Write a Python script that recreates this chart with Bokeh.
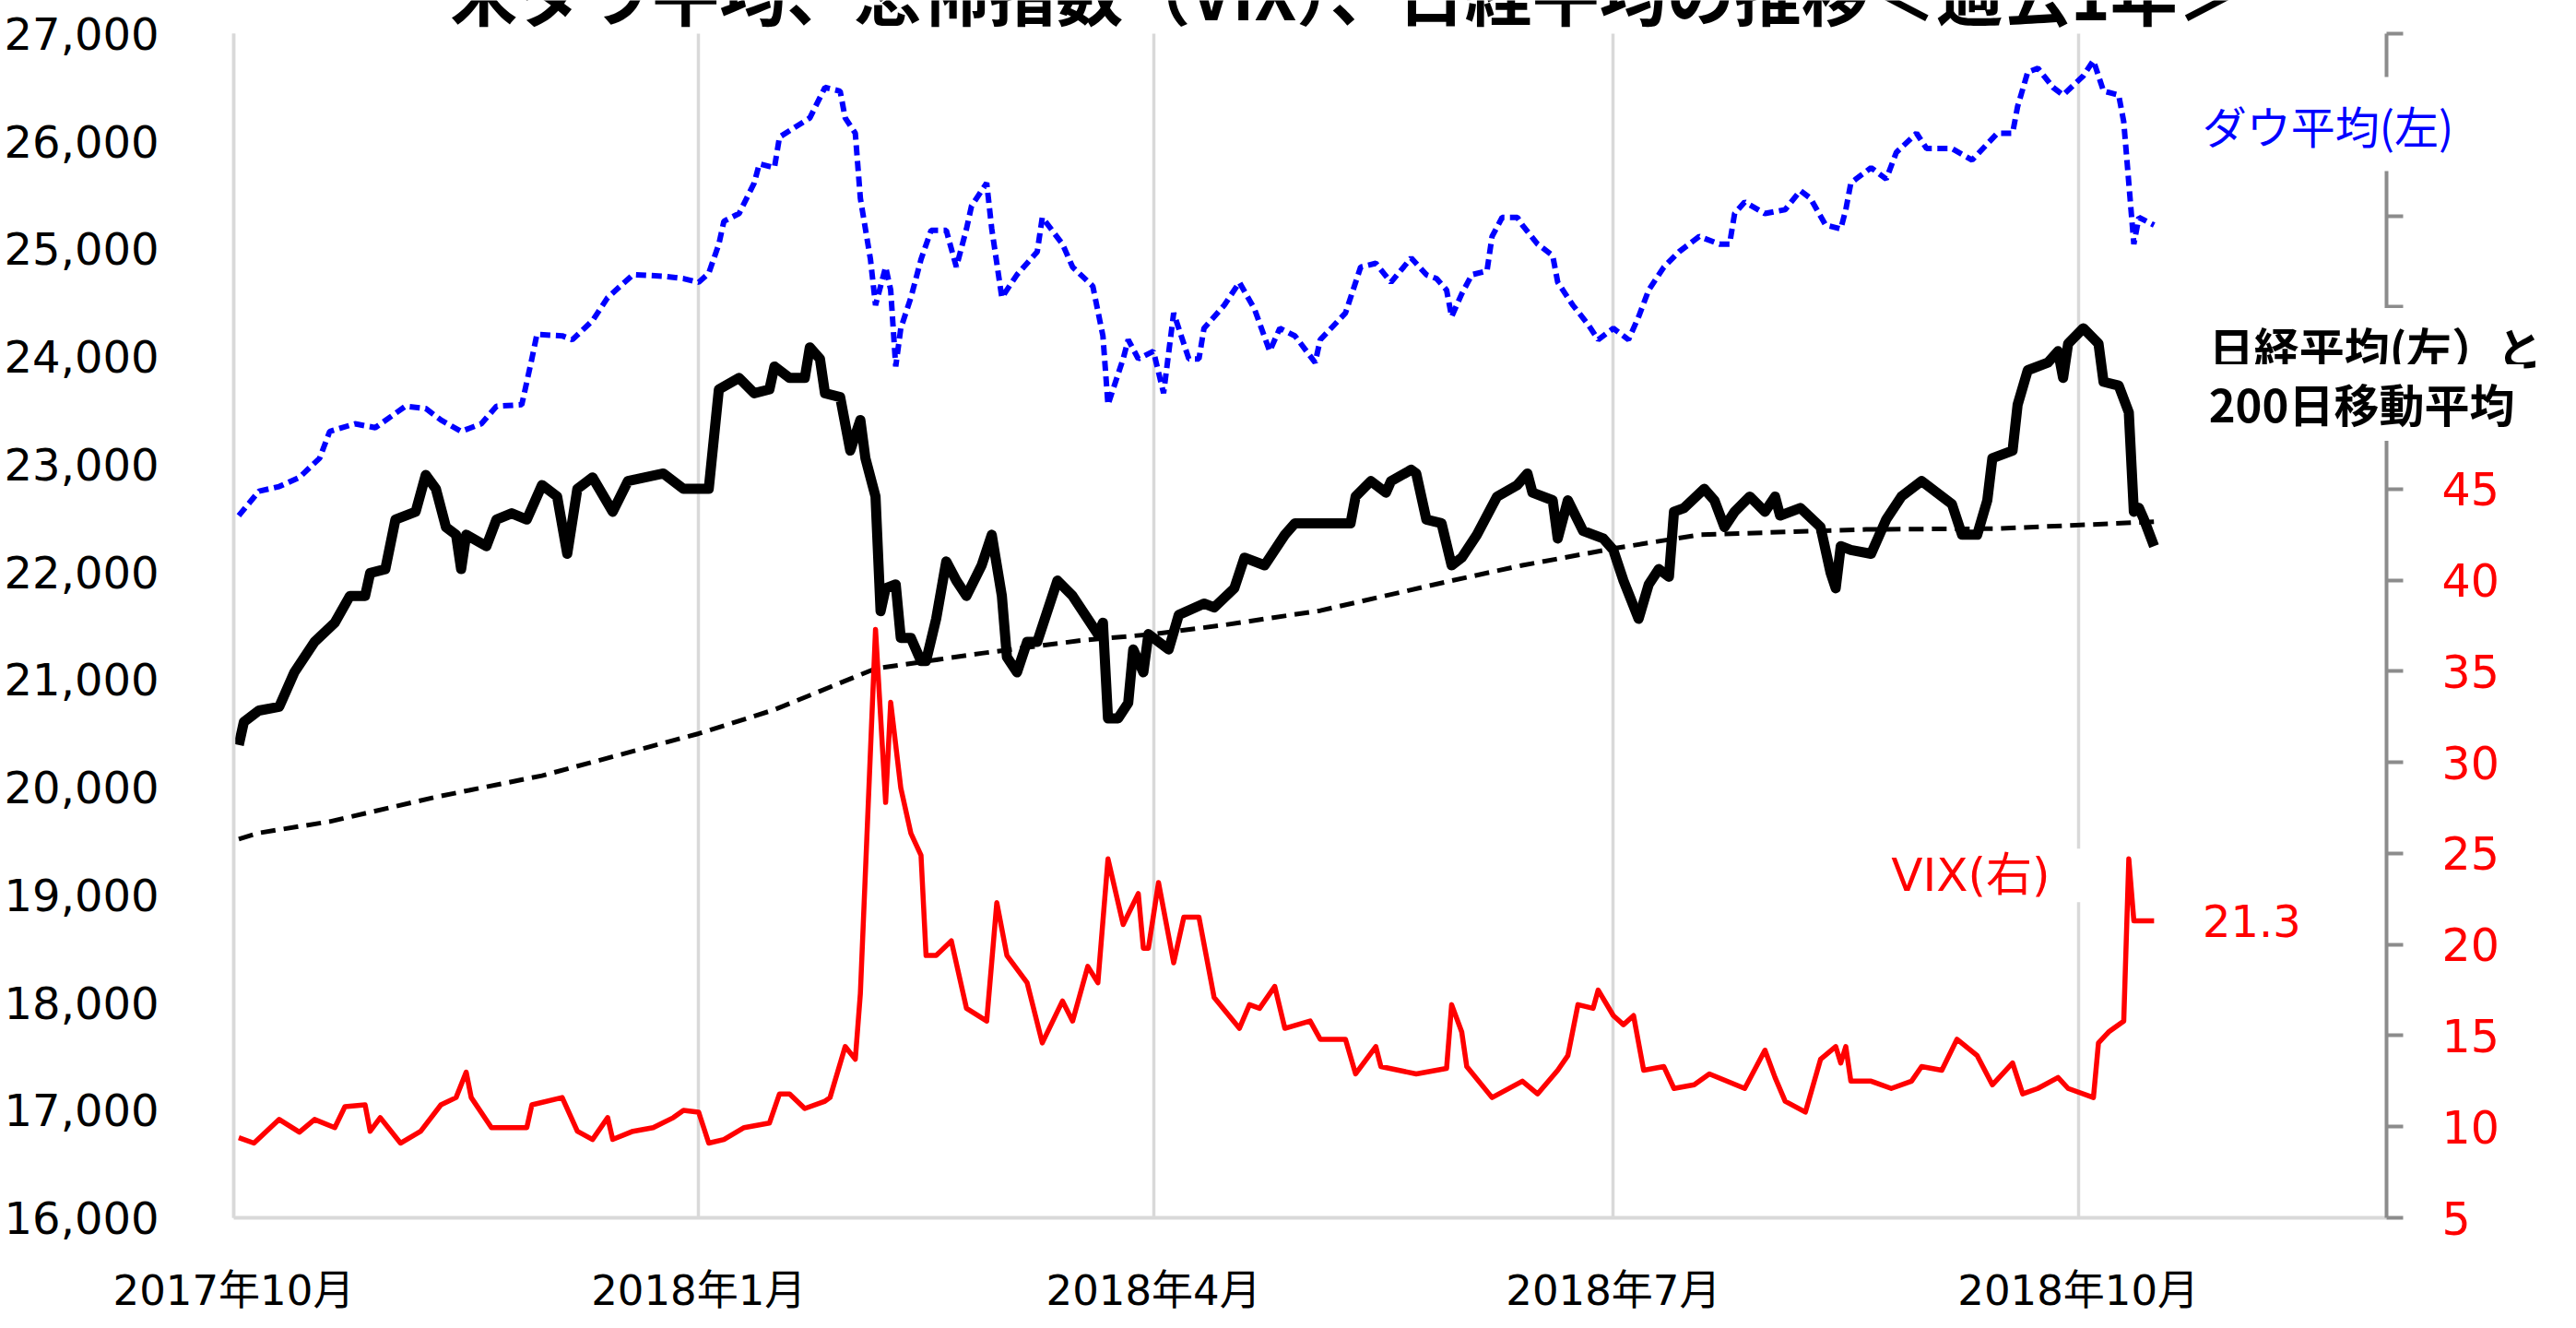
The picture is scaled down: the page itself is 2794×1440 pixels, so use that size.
import pandas as pd
from bokeh.plotting import figure
from bokeh.models import Range1d, LinearAxis, FixedTicker, NumeralTickFormatter, Label
from bokeh.embed import file_html
from bokeh.resources import INLINE

# ---------------- data ----------------
ORIGIN = "2017-10-01"
AXIS_END = "2018-12-01"

title_text = "米ダウ平均、恐怖指数（VIX）、日経平均の推移＜過去1年＞"

month_tick_dates = ["2017-10-01", "2018-01-01", "2018-04-01", "2018-07-01", "2018-10-01"]
month_tick_labels = ["2017年10月", "2018年1月", "2018年4月", "2018年7月", "2018年10月"]

left_ticks = list(range(16000, 27001, 1000))
right_ticks = list(range(5, 71, 5))
right_label_max = 45

dow_label = "ダウ平均(左)"
nikkei_label_1 = "日経平均(左）と"
nikkei_label_2 = "200日移動平均"
vix_label = "VIX(右)"

dow_dates = [
    "2017-10-02", "2017-10-06", "2017-10-10", "2017-10-14", "2017-10-18", "2017-10-20", "2017-10-25",
    "2017-10-29", "2017-11-04", "2017-11-08", "2017-11-11", "2017-11-15", "2017-11-19", "2017-11-22",
    "2017-11-27", "2017-11-29", "2017-11-30", "2017-12-05", "2017-12-07", "2017-12-11", "2017-12-14",
    "2017-12-19", "2017-12-25", "2017-12-29", "2018-01-01", "2018-01-03", "2018-01-05", "2018-01-06",
    "2018-01-09", "2018-01-12", "2018-01-13", "2018-01-16", "2018-01-17", "2018-01-23", "2018-01-26",
    "2018-01-29", "2018-01-30", "2018-02-01", "2018-02-02", "2018-02-04", "2018-02-05", "2018-02-07",
    "2018-02-08", "2018-02-09", "2018-02-10", "2018-02-12", "2018-02-14", "2018-02-16", "2018-02-19",
    "2018-02-21", "2018-02-23", "2018-02-24", "2018-02-27", "2018-02-28", "2018-03-02", "2018-03-05",
    "2018-03-09", "2018-03-10", "2018-03-14", "2018-03-16", "2018-03-20", "2018-03-22", "2018-03-23",
    "2018-03-26", "2018-03-27", "2018-03-29", "2018-04-01", "2018-04-03", "2018-04-05", "2018-04-08",
    "2018-04-10", "2018-04-11", "2018-04-15", "2018-04-18", "2018-04-21", "2018-04-24", "2018-04-26",
    "2018-04-29", "2018-05-03", "2018-05-04", "2018-05-09", "2018-05-12", "2018-05-15", "2018-05-18",
    "2018-05-22", "2018-05-25", "2018-05-27", "2018-05-29", "2018-05-30", "2018-06-01", "2018-06-03",
    "2018-06-06", "2018-06-07", "2018-06-09", "2018-06-12", "2018-06-13", "2018-06-16", "2018-06-19",
    "2018-06-20", "2018-06-23", "2018-06-26", "2018-06-28", "2018-07-01", "2018-07-04", "2018-07-06",
    "2018-07-08", "2018-07-11", "2018-07-14", "2018-07-18", "2018-07-22", "2018-07-24", "2018-07-25",
    "2018-07-27", "2018-07-31", "2018-08-04", "2018-08-07", "2018-08-09", "2018-08-12", "2018-08-15",
    "2018-08-16", "2018-08-17", "2018-08-18", "2018-08-21", "2018-08-24", "2018-08-26", "2018-08-30",
    "2018-09-01", "2018-09-06", "2018-09-10", "2018-09-15", "2018-09-18", "2018-09-19", "2018-09-21",
    "2018-09-23", "2018-09-26", "2018-09-28", "2018-10-02", "2018-10-04", "2018-10-06", "2018-10-09",
    "2018-10-10", "2018-10-11", "2018-10-12", "2018-10-13", "2018-10-16",
]
dow_values = [
    22523, 22750, 22793, 22878, 23056, 23305, 23376,
    23340, 23539, 23518, 23411, 23305, 23376, 23539,
    23553, 23980, 24207, 24193, 24157, 24334, 24548,
    24761, 24747, 24725, 24690, 24775, 25045, 25258,
    25329, 25613, 25790, 25755, 26040, 26217, 26501,
    26466, 26217, 26075, 25471, 24903, 24477, 24832,
    24619, 23908, 24263, 24548, 24903, 25173, 25173,
    24832, 25187, 25400, 25613, 25187, 24548, 24761,
    24974, 25293, 25045, 24832, 24654, 24192, 23553,
    23979, 24157, 23979, 24050, 23660, 24405, 23979,
    23979, 24263, 24477, 24690, 24441, 24050, 24263,
    24192, 23944, 24157, 24405, 24832, 24867, 24690,
    24917, 24761, 24725, 24619, 24370, 24583, 24761,
    24796, 25116, 25293, 25293, 25222, 25045, 24939,
    24690, 24477, 24299, 24157, 24263, 24157, 24370,
    24619, 24832, 24974, 25116, 25045, 25045, 25329,
    25436, 25329, 25365, 25542, 25471, 25222, 25187,
    25365, 25613, 25649, 25755, 25649, 25897, 26075,
    25933, 25933, 25826, 26075, 26075, 26324, 26643,
    26679, 26501, 26430, 26608, 26750, 26466, 26430,
    26181, 25613, 25045, 25293, 25222,
]

nikkei_dates = [
    "2017-10-02", "2017-10-03", "2017-10-06", "2017-10-10", "2017-10-13", "2017-10-17", "2017-10-21",
    "2017-10-24", "2017-10-27", "2017-10-28", "2017-10-31", "2017-11-02", "2017-11-06", "2017-11-08",
    "2017-11-10", "2017-11-12", "2017-11-14", "2017-11-15", "2017-11-16", "2017-11-20", "2017-11-22",
    "2017-11-25", "2017-11-28", "2017-12-01", "2017-12-04", "2017-12-06", "2017-12-08", "2017-12-11",
    "2017-12-15", "2017-12-18", "2017-12-25", "2017-12-29", "2018-01-03", "2018-01-05", "2018-01-09",
    "2018-01-12", "2018-01-15", "2018-01-16", "2018-01-19", "2018-01-22", "2018-01-23", "2018-01-25",
    "2018-01-26", "2018-01-29", "2018-01-31", "2018-02-02", "2018-02-03", "2018-02-05", "2018-02-06",
    "2018-02-07", "2018-02-09", "2018-02-10", "2018-02-12", "2018-02-14", "2018-02-15", "2018-02-17",
    "2018-02-19", "2018-02-21", "2018-02-23", "2018-02-26", "2018-02-28", "2018-03-02", "2018-03-03",
    "2018-03-05", "2018-03-07", "2018-03-09", "2018-03-13", "2018-03-16", "2018-03-21", "2018-03-22",
    "2018-03-23", "2018-03-25", "2018-03-27", "2018-03-28", "2018-03-30", "2018-03-31", "2018-04-04",
    "2018-04-06", "2018-04-11", "2018-04-13", "2018-04-17", "2018-04-19", "2018-04-23", "2018-04-27",
    "2018-04-29", "2018-05-02", "2018-05-10", "2018-05-11", "2018-05-14", "2018-05-17", "2018-05-18",
    "2018-05-22", "2018-05-23", "2018-05-25", "2018-05-28", "2018-05-30", "2018-06-01", "2018-06-04",
    "2018-06-08", "2018-06-12", "2018-06-14", "2018-06-15", "2018-06-19", "2018-06-20", "2018-06-22",
    "2018-06-25", "2018-06-29", "2018-07-01", "2018-07-03", "2018-07-06", "2018-07-08", "2018-07-10",
    "2018-07-12", "2018-07-13", "2018-07-15", "2018-07-19", "2018-07-21", "2018-07-23", "2018-07-25",
    "2018-07-28", "2018-07-31", "2018-08-02", "2018-08-03", "2018-08-07", "2018-08-11", "2018-08-13",
    "2018-08-14", "2018-08-15", "2018-08-17", "2018-08-21", "2018-08-24", "2018-08-27", "2018-08-31",
    "2018-09-03", "2018-09-06", "2018-09-08", "2018-09-11", "2018-09-13", "2018-09-14", "2018-09-18",
    "2018-09-19", "2018-09-21", "2018-09-25", "2018-09-27", "2018-09-28", "2018-09-29", "2018-10-02",
    "2018-10-05", "2018-10-06", "2018-10-09", "2018-10-11", "2018-10-12", "2018-10-13", "2018-10-14",
    "2018-10-16",
]
nikkei_values = [
    20392, 20605, 20712, 20747, 21067, 21350, 21528,
    21777, 21777, 21990, 22026, 22487, 22559, 22900,
    22772, 22416, 22345, 22026, 22345, 22239, 22487,
    22544, 22487, 22807, 22700, 22168, 22772, 22878,
    22559, 22843, 22914, 22772, 22772, 23695, 23802,
    23660, 23695, 23908, 23802, 23802, 24086, 23979,
    23660, 23624, 23127, 23411, 23056, 22700, 21635,
    21848, 21884, 21386, 21386, 21173, 21173, 21564,
    22097, 21919, 21777, 22061, 22345, 21777, 21209,
    21067, 21350, 21350, 21919, 21777, 21422, 21528,
    20640, 20640, 20782, 21280, 21067, 21422, 21280,
    21600, 21706, 21670, 21848, 22132, 22061, 22345,
    22452, 22452, 22452, 22700, 22843, 22736, 22843,
    22949, 22914, 22487, 22452, 22061, 22132, 22345,
    22700, 22807, 22914, 22736, 22665, 22310, 22665,
    22381, 22310, 22203, 21919, 21564, 21884, 22026,
    21955, 22559, 22594, 22772, 22665, 22416, 22559,
    22700, 22559, 22700, 22523, 22594, 22416, 21990,
    21848, 22239, 22203, 22168, 22487, 22700, 22843,
    22736, 22630, 22345, 22345, 22665, 23056, 23127,
    23553, 23873, 23944, 24050, 23802, 24121, 24263,
    24121, 23766, 23731, 23482, 22559, 22594, 22487,
    22239,
]

ma200_dates = [
    "2017-10-02", "2017-10-06", "2017-10-20", "2017-11-10", "2017-12-01", "2018-01-01", "2018-01-16",
    "2018-02-05", "2018-02-26", "2018-03-18", "2018-04-01", "2018-04-15", "2018-05-04", "2018-05-30",
    "2018-06-13", "2018-07-01", "2018-07-18", "2018-08-20", "2018-09-15", "2018-10-16",
]
ma200_values = [
    19518, 19575, 19681, 19909, 20107, 20498, 20720,
    21102, 21244, 21365, 21422, 21507, 21640, 21919,
    22061, 22217, 22345, 22395, 22402, 22466,
]

vix_dates = [
    "2017-10-02", "2017-10-05", "2017-10-10", "2017-10-14", "2017-10-17", "2017-10-21", "2017-10-23",
    "2017-10-27", "2017-10-28", "2017-10-30", "2017-11-03", "2017-11-07", "2017-11-11", "2017-11-14",
    "2017-11-16", "2017-11-17", "2017-11-21", "2017-11-28", "2017-11-29", "2017-12-05", "2017-12-08",
    "2017-12-11", "2017-12-14", "2017-12-15", "2017-12-19", "2017-12-23", "2017-12-27", "2017-12-29",
    "2018-01-01", "2018-01-03", "2018-01-06", "2018-01-10", "2018-01-15", "2018-01-17", "2018-01-19",
    "2018-01-22", "2018-01-26", "2018-01-27", "2018-01-30", "2018-02-01", "2018-02-02", "2018-02-05",
    "2018-02-07", "2018-02-08", "2018-02-10", "2018-02-12", "2018-02-14", "2018-02-15", "2018-02-17",
    "2018-02-20", "2018-02-23", "2018-02-27", "2018-03-01", "2018-03-03", "2018-03-07", "2018-03-10",
    "2018-03-14", "2018-03-16", "2018-03-19", "2018-03-21", "2018-03-23", "2018-03-26", "2018-03-29",
    "2018-03-30", "2018-03-31", "2018-04-02", "2018-04-05", "2018-04-07", "2018-04-10", "2018-04-13",
    "2018-04-18", "2018-04-20", "2018-04-22", "2018-04-25", "2018-04-27", "2018-05-02", "2018-05-04",
    "2018-05-09", "2018-05-11", "2018-05-15", "2018-05-16", "2018-05-23", "2018-05-29", "2018-05-30",
    "2018-06-01", "2018-06-02", "2018-06-07", "2018-06-13", "2018-06-16", "2018-06-20", "2018-06-22",
    "2018-06-24", "2018-06-27", "2018-06-28", "2018-07-01", "2018-07-03", "2018-07-05", "2018-07-07",
    "2018-07-11", "2018-07-13", "2018-07-17", "2018-07-20", "2018-07-27", "2018-07-31", "2018-08-02",
    "2018-08-04", "2018-08-08", "2018-08-11", "2018-08-14", "2018-08-15", "2018-08-16", "2018-08-17",
    "2018-08-21", "2018-08-25", "2018-08-29", "2018-08-31", "2018-09-04", "2018-09-07", "2018-09-11",
    "2018-09-14", "2018-09-18", "2018-09-20", "2018-09-23", "2018-09-27", "2018-09-29", "2018-10-04",
    "2018-10-05", "2018-10-07", "2018-10-10", "2018-10-11", "2018-10-12", "2018-10-16",
]
vix_values = [
    9.4, 9.1, 10.4, 9.7, 10.4, 9.95, 11.1,
    11.2, 9.75, 10.5, 9.1, 9.75, 11.2, 11.6,
    13.0, 11.6, 9.95, 9.95, 11.2, 11.6, 9.75,
    9.3, 10.5, 9.3, 9.75, 9.95, 10.5, 10.9,
    10.8, 9.1, 9.3, 9.95, 10.2, 11.8, 11.8,
    11.0, 11.4, 11.6, 14.4, 13.7, 17.3, 37.3,
    27.8, 33.3, 28.6, 26.1, 24.9, 19.4, 19.4,
    20.2, 16.5, 15.8, 22.3, 19.4, 17.9, 14.6,
    16.9, 15.8, 18.8, 17.9, 24.7, 21.1, 22.8,
    19.8, 19.8, 23.4, 19.0, 21.5, 21.5, 17.1,
    15.4, 16.7, 16.5, 17.7, 15.4, 15.8, 14.8,
    14.8, 12.9, 14.4, 13.3, 12.9, 13.2, 16.7,
    15.2, 13.3, 11.6, 12.5, 11.8, 13.1, 13.9,
    16.7, 16.5, 17.5, 16.1, 15.6, 16.1, 13.1,
    13.3, 12.1, 12.3, 12.9, 12.1, 14.2, 12.7,
    11.4, 10.8, 13.7, 14.4, 13.5, 14.4, 12.5,
    12.5, 12.1, 12.5, 13.3, 13.1, 14.8, 13.9,
    12.3, 13.5, 11.8, 12.1, 12.7, 12.1, 11.6,
    14.6, 15.2, 15.8, 24.7, 21.3, 21.3,
]


def to_days(dates):
    base = pd.Timestamp(ORIGIN)
    return [(pd.Timestamp(d) - base).days for d in dates]


# ---------------- layout ----------------
# The frame covers the whole canvas; the three axes are drawn at fixed
# locations inside it, so nothing (labels, boxes) gets clipped.
W, H = 2776, 1424
OFF_L, OFF_T = 253, 36    # canvas position of the Oct-2017 / 27,000 corner
AXIS_PX = 2335            # pixels from Oct 2017 to the VIX axis
PLOT_H = 1284             # pixels from the 16,000 line to the 27,000 line

tick_days = to_days(month_tick_dates)
axis_end_day = to_days([AXIS_END])[0]
px_per_day = AXIS_PX / axis_end_day
x_start = -OFF_L / px_per_day
x_end = (W - OFF_L) / px_per_day

y_lo, y_hi = left_ticks[0], left_ticks[-1]
ypp = (y_hi - y_lo) / PLOT_H
y_end = y_hi + OFF_T * ypp
y_start = y_lo - (H - OFF_T - PLOT_H) * ypp

v_lo, v_hi = right_ticks[0], right_ticks[-1]
vpp = (v_hi - v_lo) / PLOT_H
v_end = v_hi + OFF_T * vpp
v_start = v_lo - (H - OFF_T - PLOT_H) * vpp

p = figure(
    width=W, height=H,
    x_range=Range1d(x_start, x_end), y_range=Range1d(y_start, y_end),
    output_backend="svg", toolbar_location=None,
    min_border_left=0, min_border_right=0, min_border_top=0, min_border_bottom=0,
)
p.extra_y_ranges = {"vix": Range1d(v_start, v_end)}
p.outline_line_color = None
p.background_fill_color = "white"
p.border_fill_color = "white"

NUM_FONT = "DejaVu Sans, Noto Sans CJK JP"
JP_FONT = "Noto Sans CJK JP"

# bottom axis, drawn at the 16,000 line
xa = p.xaxis[0]
xa.fixed_location = y_lo
xa.ticker = FixedTicker(ticks=tick_days)
xa.bounds = (0, axis_end_day)
xa.major_label_overrides = {d: lab for d, lab in zip(tick_days, month_tick_labels)}
xa.major_tick_line_color = None
xa.minor_tick_line_color = None
xa.axis_line_color = "#d9d9d9"
xa.axis_line_width = 4
xa.major_label_text_font = NUM_FONT
xa.major_label_text_font_size = "45px"
xa.major_label_text_color = "black"
xa.major_label_standoff = 46

# left axis, drawn at Oct 2017
ya = p.yaxis[0]
ya.fixed_location = 0
ya.ticker = FixedTicker(ticks=left_ticks)
ya.bounds = (y_lo, y_hi)
ya.formatter = NumeralTickFormatter(format="0,0")
ya.major_tick_line_color = None
ya.minor_tick_line_color = None
ya.axis_line_color = "#d9d9d9"
ya.axis_line_width = 3.5
ya.major_label_text_font = NUM_FONT
ya.major_label_text_font_size = "48px"
ya.major_label_text_color = "black"
ya.major_label_standoff = 75

# right axis (VIX), drawn at the end of the date range
ra = LinearAxis(
    y_range_name="vix",
    fixed_location=axis_end_day,
    bounds=(v_lo, v_hi),
    ticker=FixedTicker(ticks=right_ticks),
    major_label_overrides={t: "" for t in right_ticks if t > right_label_max},
    axis_line_color="#8c8c8c", axis_line_width=4,
    major_tick_line_color="#8c8c8c", major_tick_line_width=4,
    major_tick_out=18, major_tick_in=0,
    minor_tick_line_color=None,
    major_label_text_color="#ff0000",
    major_label_text_font=NUM_FONT,
    major_label_text_font_size="49px",
    major_label_standoff=42,
)
p.add_layout(ra, "right")

# grids
p.xgrid.ticker = FixedTicker(ticks=tick_days)
p.xgrid.cross_bounds = (y_lo, y_hi)
p.xgrid.grid_line_color = "#d9d9d9"
p.xgrid.grid_line_width = 3.5
p.ygrid.grid_line_color = None

# ---------------- series ----------------
p.line(to_days(nikkei_dates), nikkei_values, line_color="black", line_width=11, line_join="round")
p.line(to_days(ma200_dates), ma200_values, line_color="black", line_width=5, line_dash="16 9")
p.line(to_days(dow_dates), dow_values, line_color="#0000ff", line_width=6, line_dash="11 6")
p.line(to_days(vix_dates), vix_values, line_color="#ff0000", line_width=5.5, line_join="round",
       y_range_name="vix")

# ---------------- annotations ----------------
p.add_layout(Label(
    x=220.4, y=27400, text=title_text, text_align="center", text_baseline="alphabetic",
    text_font=JP_FONT, text_font_size="73px", text_font_style="bold", text_color="black",
))

p.add_layout(Label(
    x=387.0, y=26160, text=dow_label, text_align="left", text_baseline="middle",
    text_font=JP_FONT, text_font_size="48px", text_color="#0000ff",
    background_fill_color="white",
    padding=dict(left=14, right=14, top=16, bottom=16),
))

p.add_layout(Label(
    x=389.0, y=24096, text=nikkei_label_1, text_align="left", text_baseline="middle",
    text_font=JP_FONT, text_font_size="49px", text_font_style="bold", text_color="black",
    background_fill_color="white",
    padding=dict(left=10, right=10, top=6, bottom=6),
))
p.add_layout(Label(
    x=389.0, y=23573, text=nikkei_label_2, text_align="left", text_baseline="middle",
    text_font=JP_FONT, text_font_size="49px", text_font_style="bold", text_color="black",
    background_fill_color="white",
    padding=dict(left=10, right=10, top=6, bottom=6),
))

p.add_layout(Label(
    x=366.7, y=23.8, y_range_name="vix", text=vix_label, text_align="right", text_baseline="middle",
    text_font=NUM_FONT, text_font_size="50px", text_color="#ff0000",
    background_fill_color="white",
    padding=dict(left=15, right=40, top=0, bottom=0),
))

p.add_layout(Label(
    x=389.6, y=vix_values[-1], y_range_name="vix", text=f"{vix_values[-1]:.1f}",
    text_align="left", text_baseline="middle",
    text_font=NUM_FONT, text_font_size="48px", text_color="#ff0000",
))

open("out.html", "w").write(file_html(p, INLINE))
